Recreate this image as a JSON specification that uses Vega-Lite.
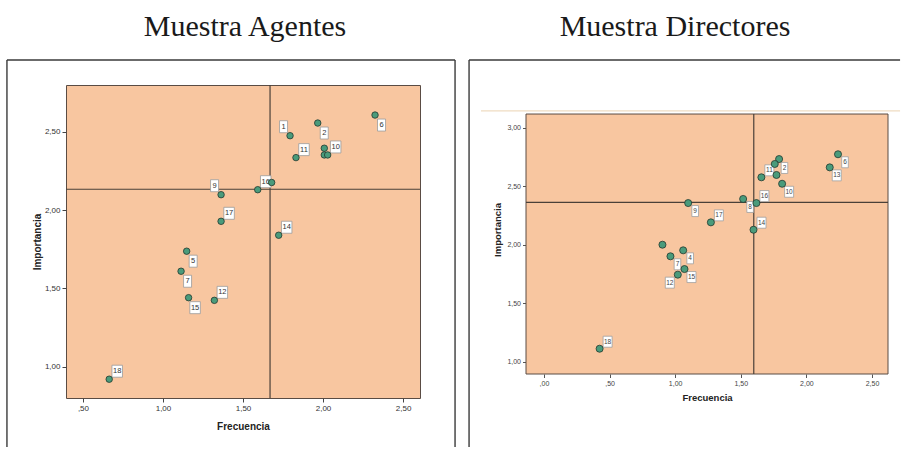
{
  "$schema": "https://vega.github.io/schema/vega-lite/v6.json",
  "background": "white",
  "padding": {"left": 5, "top": 11, "right": 0, "bottom": 0},
  "spacing": 11,
  "config": {
    "font": "Liberation Sans",
    "title": {"font": "Liberation Serif", "fontSize": 30, "fontWeight": "normal", "color": "#1a1a1a", "anchor": "middle", "frame": "group"}
  },
  "datasets": {
    "agentes": [
      {"item": 1, "frecuencia": 1.794, "importancia": 2.476},
      {"item": 2, "frecuencia": 1.967, "importancia": 2.557},
      {"item": 3, "frecuencia": 2.008, "importancia": 2.396},
      {"item": 4, "frecuencia": 2.008, "importancia": 2.353},
      {"item": 5, "frecuencia": 1.148, "importancia": 1.738},
      {"item": 6, "frecuencia": 2.325, "importancia": 2.608},
      {"item": 7, "frecuencia": 1.113, "importancia": 1.610},
      {"item": 8, "frecuencia": 1.679, "importancia": 2.177},
      {"item": 9, "frecuencia": 1.363, "importancia": 2.099},
      {"item": 10, "frecuencia": 2.029, "importancia": 2.353},
      {"item": 11, "frecuencia": 1.831, "importancia": 2.336},
      {"item": 12, "frecuencia": 1.321, "importancia": 1.424},
      {"item": 14, "frecuencia": 1.723, "importancia": 1.840},
      {"item": 15, "frecuencia": 1.160, "importancia": 1.441},
      {"item": 16, "frecuencia": 1.592, "importancia": 2.131},
      {"item": 17, "frecuencia": 1.363, "importancia": 1.929},
      {"item": 18, "frecuencia": 0.664, "importancia": 0.920}
    ],
    "directores": [
      {"item": 1, "frecuencia": 1.792, "importancia": 2.732},
      {"item": 2, "frecuencia": 1.772, "importancia": 2.596},
      {"item": 3, "frecuencia": 1.759, "importancia": 2.690},
      {"item": 4, "frecuencia": 1.061, "importancia": 1.952},
      {"item": 5, "frecuencia": 0.903, "importancia": 2.000},
      {"item": 6, "frecuencia": 2.241, "importancia": 2.773},
      {"item": 7, "frecuencia": 0.964, "importancia": 1.901},
      {"item": 8, "frecuencia": 1.518, "importancia": 2.391},
      {"item": 9, "frecuencia": 1.099, "importancia": 2.356},
      {"item": 10, "frecuencia": 1.815, "importancia": 2.521},
      {"item": 11, "frecuencia": 1.657, "importancia": 2.576},
      {"item": 12, "frecuencia": 1.020, "importancia": 1.744},
      {"item": 13, "frecuencia": 2.178, "importancia": 2.661},
      {"item": 14, "frecuencia": 1.597, "importancia": 2.128},
      {"item": 15, "frecuencia": 1.071, "importancia": 1.792},
      {"item": 16, "frecuencia": 1.619, "importancia": 2.356},
      {"item": 17, "frecuencia": 1.272, "importancia": 2.191},
      {"item": 18, "frecuencia": 0.424, "importancia": 1.111}
    ],
    "ref_agentes": [{"frecuencia": 1.669, "importancia": 2.134}],
    "ref_directores": [{"frecuencia": 1.599, "importancia": 2.362}],
    "marco_agentes": [
      {"x1": 0.025, "y1": 0.487, "x2": 0.025, "y2": 2.960},
      {"x1": 0.025, "y1": 2.960, "x2": 2.825, "y2": 2.960},
      {"x1": 2.825, "y1": 2.960, "x2": 2.825, "y2": 0.487}
    ],
    "area_directores": [{"x1": -0.137, "x2": 2.622, "y1": 0.895, "y2": 3.117}],
    "marco_directores": [
      {"x1": -0.571, "y1": 0.271, "x2": -0.571, "y2": 3.579},
      {"x1": -0.571, "y1": 3.579, "x2": 2.714, "y2": 3.579}
    ],
    "linea_directores": [
      {"x1": -0.480, "y1": 3.143, "x2": 2.714, "y2": 3.143}
    ]
  },
  "hconcat": [
    {
      "width": 354,
      "height": 313,
      "title": {"text": "Muestra Agentes", "offset": 17, "dx": 2},
      "view": {"fill": "#f8c6a0", "stroke": "#5a4c44", "strokeWidth": 1},
      "layer": [
        {
          "data": {"name": "marco_agentes"},
          "mark": {"type": "rule", "color": "#3a3a3a", "strokeWidth": 1.4},
          "encoding": {
            "x": {"field": "x1", "type": "quantitative", "scale": {"domain": [0.394, 2.606], "nice": false, "zero": false}},
            "x2": {"field": "x2"},
            "y": {"field": "y1", "type": "quantitative", "scale": {"domain": [0.80, 2.80], "nice": false, "zero": false}},
            "y2": {"field": "y2"}
          }
        },
        {
          "data": {"name": "ref_agentes"},
          "mark": {"type": "rule", "color": "#4a4038", "strokeWidth": 1.2},
          "encoding": {
            "x": {"field": "frecuencia", "type": "quantitative", "scale": {"domain": [0.394, 2.606], "nice": false, "zero": false}}
          }
        },
        {
          "data": {"name": "ref_agentes"},
          "mark": {"type": "rule", "color": "#4a4038", "strokeWidth": 1.2},
          "encoding": {
            "y": {"field": "importancia", "type": "quantitative", "scale": {"domain": [0.80, 2.80], "nice": false, "zero": false}}
          }
        },
        {
          "data": {"name": "agentes"},
          "transform": [{"filter": {"field": "item", "oneOf": [10, 11, 16, 17, 14, 12, 18]}}],
          "encoding": {
            "x": {"field": "frecuencia", "type": "quantitative", "scale": {"domain": [0.394, 2.606], "nice": false, "zero": false}},
            "y": {"field": "importancia", "type": "quantitative", "scale": {"domain": [0.80, 2.80], "nice": false, "zero": false}}
          },
          "layer": [
            {
              "mark": {"type": "point", "filled": true, "fill": "white", "stroke": "#9a9a9a", "strokeWidth": 0.8, "size": 144, "opacity": 1, "xOffset": 8, "yOffset": -8},
              "encoding": {"shape": {"condition": {"test": "datum.item >= 10", "value": "M-0.875,-1H0.875V1H-0.875Z"}, "value": "M-0.667,-1H0.667V1H-0.667Z"}}
            },
            {
              "mark": {"type": "text", "fontSize": 7.5, "color": "#333", "align": "center", "baseline": "middle", "xOffset": 8, "yOffset": -8},
              "encoding": {"text": {"field": "item", "type": "nominal"}}
            }
          ]
        },
        {
          "data": {"name": "agentes"},
          "transform": [{"filter": {"field": "item", "oneOf": [2, 6, 5, 7, 15]}}],
          "encoding": {
            "x": {"field": "frecuencia", "type": "quantitative", "scale": {"domain": [0.394, 2.606], "nice": false, "zero": false}},
            "y": {"field": "importancia", "type": "quantitative", "scale": {"domain": [0.80, 2.80], "nice": false, "zero": false}}
          },
          "layer": [
            {
              "mark": {"type": "point", "filled": true, "fill": "white", "stroke": "#9a9a9a", "strokeWidth": 0.8, "size": 144, "opacity": 1, "xOffset": 6.5, "yOffset": 10},
              "encoding": {"shape": {"condition": {"test": "datum.item >= 10", "value": "M-0.875,-1H0.875V1H-0.875Z"}, "value": "M-0.667,-1H0.667V1H-0.667Z"}}
            },
            {
              "mark": {"type": "text", "fontSize": 7.5, "color": "#333", "align": "center", "baseline": "middle", "xOffset": 6.5, "yOffset": 10},
              "encoding": {"text": {"field": "item", "type": "nominal"}}
            }
          ]
        },
        {
          "data": {"name": "agentes"},
          "transform": [{"filter": {"field": "item", "oneOf": [1, 9]}}],
          "encoding": {
            "x": {"field": "frecuencia", "type": "quantitative", "scale": {"domain": [0.394, 2.606], "nice": false, "zero": false}},
            "y": {"field": "importancia", "type": "quantitative", "scale": {"domain": [0.80, 2.80], "nice": false, "zero": false}}
          },
          "layer": [
            {
              "mark": {"type": "point", "filled": true, "fill": "white", "stroke": "#9a9a9a", "strokeWidth": 0.8, "size": 144, "opacity": 1, "xOffset": -6.5, "yOffset": -9},
              "encoding": {"shape": {"condition": {"test": "datum.item >= 10", "value": "M-0.875,-1H0.875V1H-0.875Z"}, "value": "M-0.667,-1H0.667V1H-0.667Z"}}
            },
            {
              "mark": {"type": "text", "fontSize": 7.5, "color": "#333", "align": "center", "baseline": "middle", "xOffset": -6.5, "yOffset": -9},
              "encoding": {"text": {"field": "item", "type": "nominal"}}
            }
          ]
        },
        {
          "data": {"name": "agentes"},
          "mark": {"type": "circle", "size": 42, "fill": "#4a9b7b", "stroke": "#22382e", "strokeWidth": 0.8, "opacity": 1},
          "encoding": {
            "x": {
              "field": "frecuencia", "type": "quantitative",
              "scale": {"domain": [0.394, 2.606], "nice": false, "zero": false},
              "axis": {"title": "Frecuencia", "values": [0.5, 1, 1.5, 2, 2.5], "labelExpr": "replace(replace(format(datum.value, '.2f'), '.', ','), '0,', ',')", "domain": false, "grid": false, "ticks": true, "labels": true, "tickSize": 4, "tickColor": "#444", "labelFontSize": 8, "labelColor": "#333", "labelPadding": 2, "labelFlush": false, "titleFontSize": 10, "titleFontWeight": "bold", "titleColor": "#222", "titlePadding": 9}
            },
            "y": {
              "field": "importancia", "type": "quantitative",
              "scale": {"domain": [0.80, 2.80], "nice": false, "zero": false},
              "axis": {"title": "Importancia", "values": [1, 1.5, 2, 2.5], "labelExpr": "replace(replace(format(datum.value, '.2f'), '.', ','), '0,', ',')", "domain": false, "grid": false, "ticks": true, "labels": true, "tickSize": 4, "tickColor": "#444", "labelFontSize": 8, "labelColor": "#333", "labelPadding": 2, "labelFlush": false, "titleFontSize": 10, "titleFontWeight": "bold", "titleColor": "#222", "titlePadding": 2}
            }
          }
        }
      ]
    },
    {
      "width": 362,
      "height": 289,
      "title": {"text": "Muestra Directores", "offset": 17, "dx": -32},
      "view": {"stroke": null},
      "layer": [
        {
          "data": {"name": "area_directores"},
          "mark": {"type": "rect", "fill": "#f8c6a0", "stroke": "#5a4c44", "strokeWidth": 1},
          "encoding": {
            "x": {"field": "x1", "type": "quantitative", "scale": {"domain": [-0.137, 2.622], "nice": false, "zero": false}},
            "x2": {"field": "x2"},
            "y": {"field": "y1", "type": "quantitative", "scale": {"domain": [0.895, 3.365], "nice": false, "zero": false}},
            "y2": {"field": "y2"}
          }
        },
        {
          "data": {"name": "linea_directores"},
          "mark": {"type": "rule", "color": "#efdcc2", "strokeWidth": 1.2},
          "encoding": {
            "x": {"field": "x1", "type": "quantitative", "scale": {"domain": [-0.137, 2.622], "nice": false, "zero": false}},
            "x2": {"field": "x2"},
            "y": {"field": "y1", "type": "quantitative", "scale": {"domain": [0.895, 3.365], "nice": false, "zero": false}},
            "y2": {"field": "y2"}
          }
        },
        {
          "data": {"name": "marco_directores"},
          "mark": {"type": "rule", "color": "#3a3a3a", "strokeWidth": 1.4},
          "encoding": {
            "x": {"field": "x1", "type": "quantitative", "scale": {"domain": [-0.137, 2.622], "nice": false, "zero": false}},
            "x2": {"field": "x2"},
            "y": {"field": "y1", "type": "quantitative", "scale": {"domain": [0.895, 3.365], "nice": false, "zero": false}},
            "y2": {"field": "y2"}
          }
        },
        {
          "data": {"name": "ref_directores"},
          "mark": {"type": "rule", "color": "#4a4038", "strokeWidth": 1.2},
          "encoding": {
            "x": {"field": "frecuencia", "type": "quantitative", "scale": {"domain": [-0.137, 2.622], "nice": false, "zero": false}},
            "y": {"datum": 0.895, "type": "quantitative", "scale": {"domain": [0.895, 3.365], "nice": false, "zero": false}},
            "y2": {"datum": 3.117}
          }
        },
        {
          "data": {"name": "ref_directores"},
          "mark": {"type": "rule", "color": "#4a4038", "strokeWidth": 1.2},
          "encoding": {
            "y": {"field": "importancia", "type": "quantitative", "scale": {"domain": [0.895, 3.365], "nice": false, "zero": false}}
          }
        },
        {
          "data": {"name": "directores"},
          "transform": [{"filter": {"field": "item", "oneOf": [2, 11, 16, 17, 14, 18]}}],
          "encoding": {
            "x": {"field": "frecuencia", "type": "quantitative", "scale": {"domain": [-0.137, 2.622], "nice": false, "zero": false}},
            "y": {"field": "importancia", "type": "quantitative", "scale": {"domain": [0.895, 3.365], "nice": false, "zero": false}}
          },
          "layer": [
            {
              "mark": {"type": "point", "filled": true, "fill": "white", "stroke": "#a0a0a0", "strokeWidth": 0.8, "size": 121, "opacity": 1, "xOffset": 8, "yOffset": -7},
              "encoding": {"shape": {"condition": {"test": "datum.item >= 10", "value": "M-0.818,-1H0.818V1H-0.818Z"}, "value": "M-0.6,-1H0.6V1H-0.6Z"}}
            },
            {
              "mark": {"type": "text", "fontSize": 6.5, "color": "#444", "align": "center", "baseline": "middle", "xOffset": 8, "yOffset": -7},
              "encoding": {"text": {"field": "item", "type": "nominal"}}
            }
          ]
        },
        {
          "data": {"name": "directores"},
          "transform": [{"filter": {"field": "item", "oneOf": [6, 13, 10, 8, 9, 4, 7, 15]}}],
          "encoding": {
            "x": {"field": "frecuencia", "type": "quantitative", "scale": {"domain": [-0.137, 2.622], "nice": false, "zero": false}},
            "y": {"field": "importancia", "type": "quantitative", "scale": {"domain": [0.895, 3.365], "nice": false, "zero": false}}
          },
          "layer": [
            {
              "mark": {"type": "point", "filled": true, "fill": "white", "stroke": "#a0a0a0", "strokeWidth": 0.8, "size": 121, "opacity": 1, "xOffset": 7, "yOffset": 8},
              "encoding": {"shape": {"condition": {"test": "datum.item >= 10", "value": "M-0.818,-1H0.818V1H-0.818Z"}, "value": "M-0.6,-1H0.6V1H-0.6Z"}}
            },
            {
              "mark": {"type": "text", "fontSize": 6.5, "color": "#444", "align": "center", "baseline": "middle", "xOffset": 7, "yOffset": 8},
              "encoding": {"text": {"field": "item", "type": "nominal"}}
            }
          ]
        },
        {
          "data": {"name": "directores"},
          "transform": [{"filter": {"field": "item", "oneOf": [12]}}],
          "encoding": {
            "x": {"field": "frecuencia", "type": "quantitative", "scale": {"domain": [-0.137, 2.622], "nice": false, "zero": false}},
            "y": {"field": "importancia", "type": "quantitative", "scale": {"domain": [0.895, 3.365], "nice": false, "zero": false}}
          },
          "layer": [
            {
              "mark": {"type": "point", "filled": true, "fill": "white", "stroke": "#a0a0a0", "strokeWidth": 0.8, "size": 121, "opacity": 1, "xOffset": -8, "yOffset": 8},
              "encoding": {"shape": {"condition": {"test": "datum.item >= 10", "value": "M-0.818,-1H0.818V1H-0.818Z"}, "value": "M-0.6,-1H0.6V1H-0.6Z"}}
            },
            {
              "mark": {"type": "text", "fontSize": 6.5, "color": "#444", "align": "center", "baseline": "middle", "xOffset": -8, "yOffset": 8},
              "encoding": {"text": {"field": "item", "type": "nominal"}}
            }
          ]
        },
        {
          "data": {"name": "directores"},
          "mark": {"type": "circle", "size": 50, "fill": "#4a9b7b", "stroke": "#22382e", "strokeWidth": 0.8, "opacity": 1},
          "encoding": {
            "x": {
              "field": "frecuencia", "type": "quantitative",
              "scale": {"domain": [-0.137, 2.622], "nice": false, "zero": false},
              "axis": {"title": "Frecuencia", "values": [0, 0.5, 1, 1.5, 2, 2.5], "labelExpr": "replace(replace(format(datum.value, '.2f'), '.', ','), '0,', ',')", "domain": false, "grid": false, "ticks": true, "labels": true, "tickSize": 3.5, "tickColor": "#555", "labelFontSize": 7, "labelColor": "#444", "labelPadding": 2, "labelFlush": false, "titleFontSize": 9.5, "titleFontWeight": "bold", "titleColor": "#222", "titlePadding": 6}
            },
            "y": {
              "field": "importancia", "type": "quantitative",
              "scale": {"domain": [0.895, 3.365], "nice": false, "zero": false},
              "axis": {"title": "Importancia", "values": [1, 1.5, 2, 2.5, 3], "labelExpr": "replace(replace(format(datum.value, '.2f'), '.', ','), '0,', ',')", "domain": false, "grid": false, "ticks": true, "labels": true, "tickSize": 3.5, "tickColor": "#555", "labelFontSize": 7, "labelColor": "#444", "labelPadding": 2, "labelFlush": false, "titleFontSize": 9.5, "titleFontWeight": "bold", "titleColor": "#222", "titlePadding": 4}
            }
          }
        }
      ]
    }
  ]
}
